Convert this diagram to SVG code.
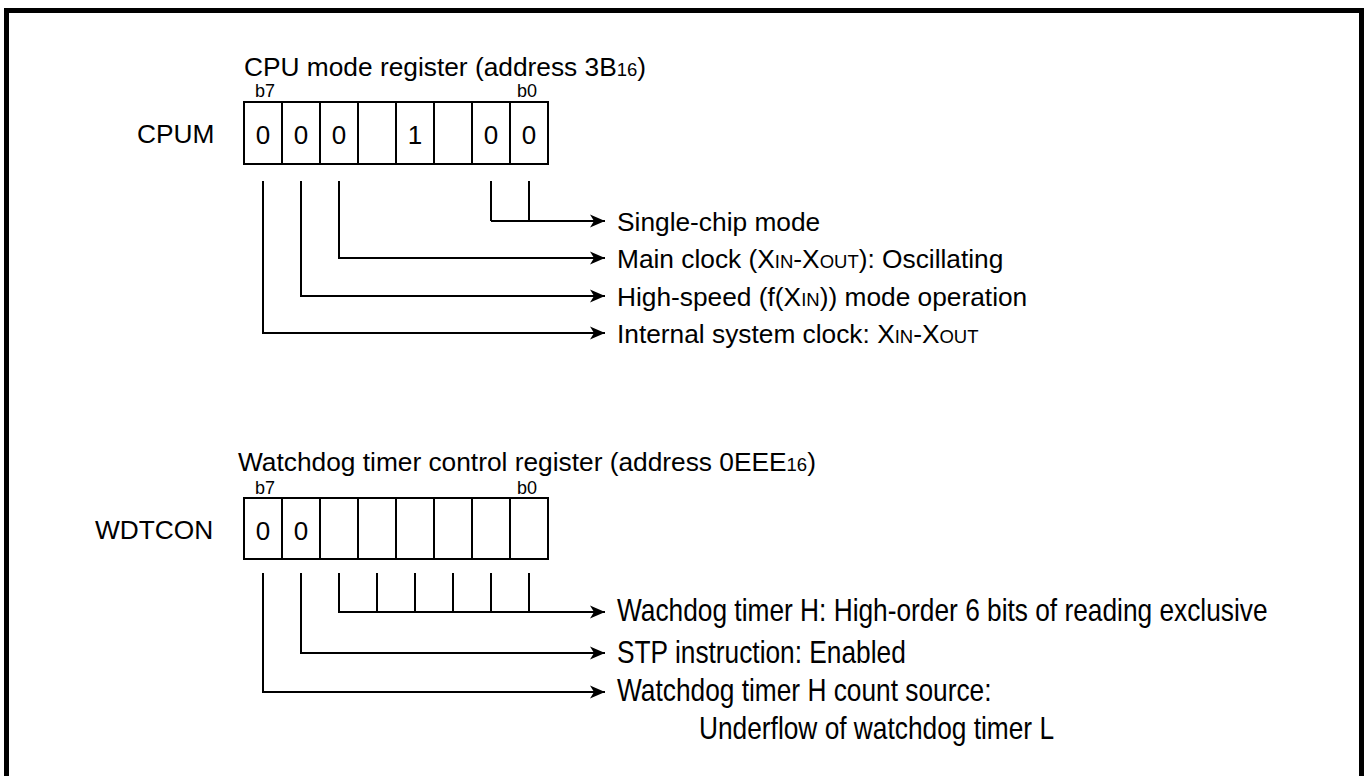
<svg xmlns="http://www.w3.org/2000/svg" width="1367" height="776" viewBox="0 0 1367 776">
<style>
.t{font-family:"Liberation Sans",Arial,sans-serif;font-size:26.3px;fill:#000}
.s{font-family:"Liberation Sans",Arial,sans-serif;font-size:18px;fill:#000}
.sub{font-size:18.5px}
.box{fill:#fff;stroke:#000;stroke-width:2}
.ln{fill:none;stroke:#000;stroke-width:2}
.d{font-family:"Liberation Sans",Arial,sans-serif;font-size:26px;fill:#000;text-anchor:middle}
</style>
<defs>
<marker id="ah" markerUnits="userSpaceOnUse" markerWidth="16" markerHeight="14" refX="15" refY="7" orient="auto">
<path d="M0,0.5 L15,7 L0,13.5 L4,7 Z" fill="#000"/>
</marker>
</defs>
<rect x="6.5" y="10.5" width="1355" height="800" fill="#fff" stroke="#000" stroke-width="5"/>

<g id="cpum">
<text class="t" x="244" y="76">CPU mode register (address 3B<tspan class="sub">16</tspan>)</text>
<text class="s" x="255" y="97">b7</text>
<text class="s" x="517" y="97">b0</text>
<text class="t" x="137" y="143">CPUM</text>
<rect class="box" x="244" y="102" width="304" height="62"/>
<path class="ln" d="M282,102V164M320,102V164M358,102V164M396,102V164M434,102V164M472,102V164M510,102V164"/>
<text class="d" x="263" y="144">0</text>
<text class="d" x="301" y="144">0</text>
<text class="d" x="339" y="144">0</text>
<text class="d" x="415" y="144">1</text>
<text class="d" x="491" y="144">0</text>
<text class="d" x="529" y="144">0</text>
</g>

<g id="cpum-labels">
<text class="t" x="617" y="231">Single-chip mode</text>
<text class="t" x="617" y="268">Main clock (X<tspan class="sub">IN</tspan>-X<tspan class="sub">OUT</tspan>): Oscillating</text>
<text class="t" x="617" y="306">High-speed (f(X<tspan class="sub">IN</tspan>)) mode operation</text>
<text class="t" x="617" y="343">Internal system clock: X<tspan class="sub">IN</tspan>-X<tspan class="sub">OUT</tspan></text>
</g>

<g id="wdtcon">
<text class="t" x="238" y="471">Watchdog timer control register (address 0EEE<tspan class="sub">16</tspan>)</text>
<text class="s" x="255" y="494">b7</text>
<text class="s" x="517" y="494">b0</text>
<text class="t" x="95" y="539">WDTCON</text>
<rect class="box" x="244" y="498" width="304" height="61"/>
<path class="ln" d="M282,498V559M320,498V559M358,498V559M396,498V559M434,498V559M472,498V559M510,498V559"/>
<text class="d" x="263" y="540">0</text>
<text class="d" x="301" y="540">0</text>
</g>

<g id="wdtcon-labels">
<text class="t" transform="translate(617,621) scale(1,1.2)">Wachdog timer H: High-order 6 bits of reading exclusive</text>
<text class="t" transform="translate(617,663) scale(1,1.2)">STP instruction: Enabled</text>
<text class="t" transform="translate(617,701) scale(1,1.2)">Watchdog timer H count source:</text>
<text class="t" transform="translate(699,739) scale(1,1.2)">Underflow of watchdog timer L</text>
</g>

<g id="connectors">
<path class="ln" d="M491,181V221M529,181V221M491,221H605" marker-end="url(#ah)"/>
<path class="ln" d="M339,181V258H605" marker-end="url(#ah)"/>
<path class="ln" d="M301,181V296H605" marker-end="url(#ah)"/>
<path class="ln" d="M263,181V333H605" marker-end="url(#ah)"/>
<path class="ln" d="M377,573V612M415,573V612M453,573V612M491,573V612M529,573V612"/>
<path class="ln" d="M339,573V612H605" marker-end="url(#ah)"/>
<path class="ln" d="M301,573V653H605" marker-end="url(#ah)"/>
<path class="ln" d="M263,573V692H605" marker-end="url(#ah)"/>
</g>
</svg>
